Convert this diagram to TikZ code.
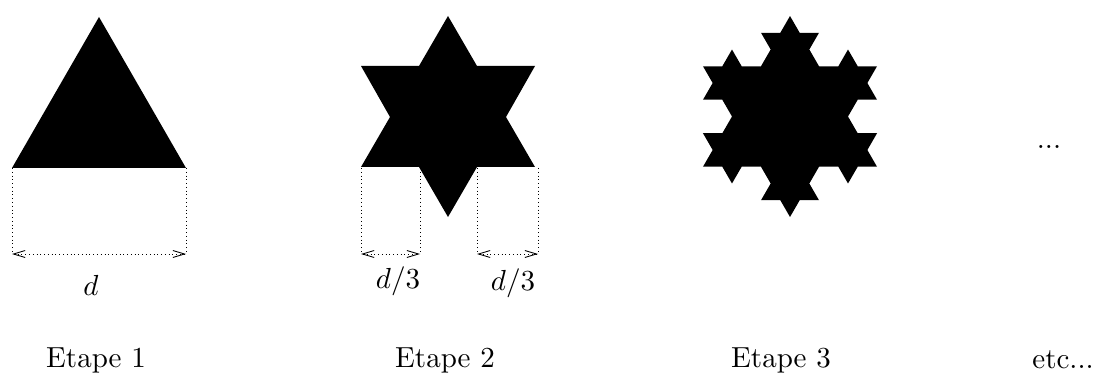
\documentclass[tikz,border=0pt]{standalone}
\usetikzlibrary{arrows.meta}
\begin{document}
\begin{tikzpicture}[x=.3445pt,y=-.3445pt,
                    guide/.style={densely dotted,line width=.3pt},
                    span/.style={guide,{Straight Barb[length=4pt,width=2.4pt,line width=.3pt]}-{Straight Barb[length=4pt,width=2.4pt,line width=.3pt]}},
                    every node/.style={inner sep=0pt}]
 \useasboundingbox (0,0) rectangle (1109,374);
 % step 1
 \fill (12,168)--(99,17)--(186,168)--cycle;
 \coordinate (a1) at (12,168); \coordinate (a2) at (186,168);
 \coordinate (a3) at (12,254); \coordinate (a4) at (186,254);
 \draw[guide] (a1)--(a3);
 \draw[guide] (a2)--(a4);
 \draw[span] (a3)--(a4);
 \node (dfull) at (91,285) {\(d\)};
 % step 2
 \fill (448,16)--(477,66)--(535,66)--(506,117)--(535,167)--(477,167)--(448,217)
       --(419,167)--(361,167)--(390,117)--(361,66)--(419,66)--cycle;
 \coordinate (b1) at (361,168); \coordinate (b2) at (420,168);
 \coordinate (b3) at (361,254); \coordinate (b4) at (420,254);
 \coordinate (c1) at (477,168); \coordinate (c2) at (538,168);
 \coordinate (c3) at (477,254); \coordinate (c4) at (538,254);
 \draw[guide] (b1)--(b3);
 \draw[guide] (b2)--(b4);
 \draw[span] (b3)--(b4);
 \draw[guide] (c1)--(c3);
 \draw[guide] (c2)--(c4);
 \draw[span] (c3)--(c4);
 \node (dleft) at (398,281) {\(d/3\)};
 \node (dright) at (513,283) {\(d/3\)};
 % step 3
 \begin{scope}[shift={(790,116.5)},x=3.331pt,y=5.77pt]
  \fill (0,6)--(-1,5)--(-3,5)--(-2,4)--(-3,3)--(-5,3)--(-6,4)--(-7,3)--(-9,3)
        --(-8,2)--(-9,1)--(-7,1)--(-6,0)--(-7,-1)--(-9,-1)--(-8,-2)--(-9,-3)
        --(-7,-3)--(-6,-4)--(-5,-3)--(-3,-3)--(-2,-4)--(-3,-5)--(-1,-5)--(0,-6)
        --(1,-5)--(3,-5)--(2,-4)--(3,-3)--(5,-3)--(6,-4)--(7,-3)--(9,-3)
        --(8,-2)--(9,-1)--(7,-1)--(6,0)--(7,1)--(9,1)--(8,2)--(9,3)
        --(7,3)--(6,4)--(5,3)--(3,3)--(2,4)--(3,5)--(1,5)--cycle;
 \end{scope}
 \node (more) at (1049,147) {...};
 % captions
 \node (etape1) at (96,360) {Etape 1};
 \node (etape2) at (445,360) {Etape 2};
 \node (etape3) at (781,360) {Etape 3};
 \node (etc) at (1063,360) {etc...};
\end{tikzpicture}
\end{document}
